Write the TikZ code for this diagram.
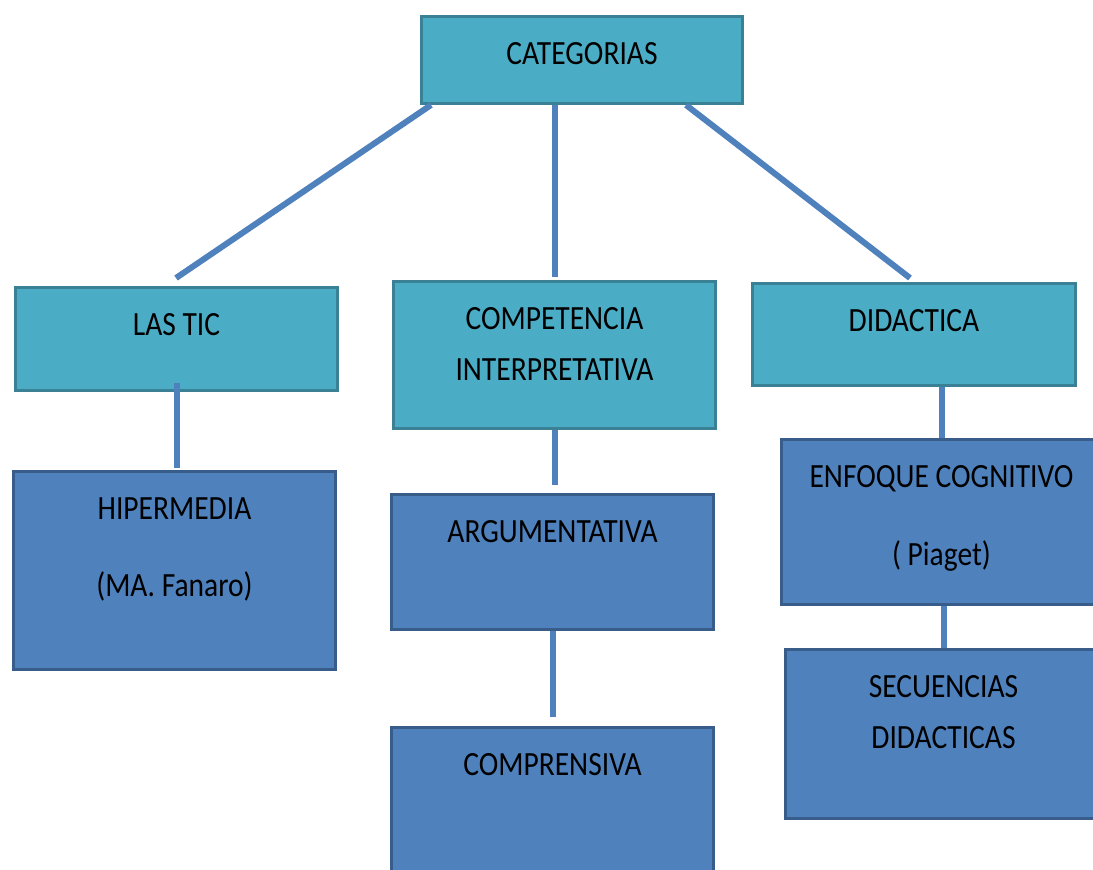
\documentclass[tikz,border=0pt]{standalone}
\usepackage{graphicx}
\usepackage{fontspec}
\setmainfont{Carlito}
\definecolor{cyanfill}{HTML}{4BACC6}
\definecolor{cyanline}{HTML}{3A8196}
\definecolor{bluefill}{HTML}{4F81BD}
\definecolor{blueline}{HTML}{385D8A}
\definecolor{connc}{HTML}{4F81BD}
\newcommand\vs[1]{\scalebox{1}[1.15]{#1}}
\newcommand\bx[3]{\parbox[t][#2pt][t]{#1pt}{\centering\fontsize{29.5}{51}\selectfont\rule{0pt}{48pt}#3}}
\tikzset{
  topbox/.style={draw=cyanline, fill=cyanfill, line width=3pt, inner sep=0pt, anchor=north west},
  subbox/.style={draw=blueline, fill=bluefill, line width=3pt, inner sep=0pt, anchor=north west},
  conn/.style={draw=connc, line width=6pt}
}
\begin{document}
\begin{tikzpicture}[x=1pt,y=-1pt]
\useasboundingbox[fill=white] (0,0) rectangle (1093,870);
\node[topbox] (cat) at (420,15) {\bx{321}{87}{\vs{CATEGORIAS}}};
\node[topbox] (tic) at (14,286) {\bx{322}{103}{\vs{LAS TIC}}};
\node[topbox] (comp) at (392,280) {\bx{322}{147}{\vs{COMPETENCIA}\\\vs{INTERPRETATIVA}}};
\node[topbox] (did) at (751,282) {\bx{323}{102}{\vs{DIDACTICA}}};
\node[subbox] (hip) at (12,470) {\bx{322}{198}{\vs{HIPERMEDIA}\\[26pt]\vs{(MA. Fanaro)}}};
\node[subbox] (arg) at (390,493) {\bx{322}{135}{\vs{ARGUMENTATIVA}}};
\node[subbox] (compr) at (390,726) {\bx{322}{174}{\vs{COMPRENSIVA}}};
\node[subbox] (enf) at (780,438) {\bx{320}{165}{\vs{ENFOQUE COGNITIVO}\\[27pt]\vs{( Piaget)}}};
\node[subbox] (sec) at (784,648) {\bx{316}{169}{\vs{SECUENCIAS}\\\vs{DIDACTICAS}}};
% connectors
\draw[conn] ([xshift=11pt]cat.south west) -- ([xshift=162pt,yshift=8pt]tic.north west);
\draw[conn] (cat.south -| comp.north) -- ([yshift=3pt]comp.north);
\draw[conn] ([xshift=266pt]cat.south west) -- ([xshift=159pt,yshift=4pt]did.north west);
\draw[conn] ([yshift=9pt]tic.south) -- ([yshift=2pt]tic.south |- hip.north);
\draw[conn] (comp.south) -- ([yshift=8pt]comp.south |- arg.north);
\draw[conn] (arg.south) -- ([yshift=9pt]arg.south |- compr.north);
\draw[conn] (enf.north |- did.south) -- (enf.north);
\draw[conn] (sec.north |- enf.south) -- (sec.north);
\end{tikzpicture}
\end{document}
